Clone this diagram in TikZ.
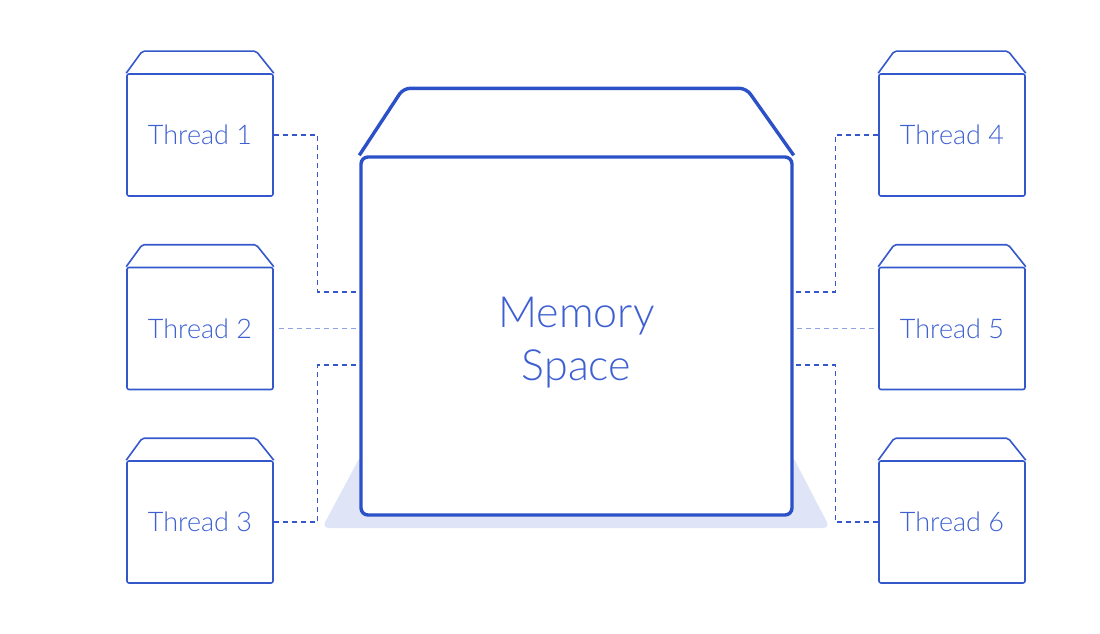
\documentclass[tikz,border=0pt]{standalone}
\usepackage{fontspec}
\setmainfont{Lato Light}
\usepackage{tikz}
\usetikzlibrary{positioning}
\definecolor{memblue}{HTML}{2B50C8}
\definecolor{threadblue}{HTML}{3457CC}
\definecolor{textblue}{HTML}{3D5FD2}
\definecolor{dashblue}{HTML}{3556CC}
\definecolor{dashlight}{HTML}{8FA3E3}
\definecolor{shadowblue}{HTML}{DFE4F6}
\tikzstyle{threadbox} = [rectangle, rounded corners=2pt, minimum width=146pt, minimum height=122pt, draw=threadblue, line width=1.6pt, text=textblue, font=\fontsize{27}{30}\selectfont]
\tikzstyle{memory} = [rectangle, rounded corners=7pt, minimum width=431pt, minimum height=358pt, draw=memblue, line width=3.4pt, fill=white]
\tikzstyle{memtext} = [text=textblue, align=center, font=\fontsize{43}{53}\selectfont]
\tikzstyle{link} = [dashblue, line width=1.3pt, dash pattern=on 5pt off 4pt]
\tikzstyle{linklight} = [dashlight, line width=1.3pt, dash pattern=on 5pt off 4pt]

\begin{document}
\begin{tikzpicture}[x=1pt, y=-1pt]
\useasboundingbox (0,0) rectangle (1100,634);

% Shadow under the memory block
\fill[shadowblue, rounded corners=7pt] (361,455) -- (322,528) -- (830,528) -- (792,455) -- cycle;

% Memory block
\node[memory] (memory) at (576.5,336) {};
\draw[memblue, line width=3.4pt, rounded corners=7pt] (memory.north west) -- ++(44,-67) -- ++(343,0) -- (memory.north east);
\node[memtext] (memlabel) at ([yshift=-7pt]memory.center) {Memory\\Space};

% Column 1 - Threads
\node[threadbox] (thread1) at (200,135) {Thread 1};
\node[threadbox] (thread2) at (200,328.5) {Thread 2};
\node[threadbox] (thread3) at (200,522) {Thread 3};

% Column 2 - Threads
\node[threadbox] (thread4) at (952,135) {Thread 4};
\node[threadbox] (thread5) at (952,328.5) {Thread 5};
\node[threadbox] (thread6) at (952,522) {Thread 6};

% Thread lids
\foreach \t in {thread1,thread2,thread3,thread4,thread5,thread6}
  \draw[threadblue, line width=1.6pt, rounded corners=2pt] (\t.north west) -- ++(16,-22) -- ++(114,0) -- (\t.north east);

% Column 1 - Links
\draw[link] (thread1.east) -- ++(44,0) |- ([yshift=44pt]memory.west);
\draw[linklight] ([xshift=5pt]thread2.east) -- (thread2.east -| memory.west);
\draw[link] (thread3.east) -- ++(44,0) |- ([yshift=-29pt]memory.west);

% Column 2 - Links
\draw[link] (thread4.west) -- ++(-43,0) |- ([yshift=44pt]memory.east);
\draw[linklight] ([xshift=-4pt]thread5.west) -- (thread5.west -| memory.east);
\draw[link] (thread6.west) -- ++(-43,0) |- ([yshift=-29pt]memory.east);

\end{tikzpicture}
\end{document}
